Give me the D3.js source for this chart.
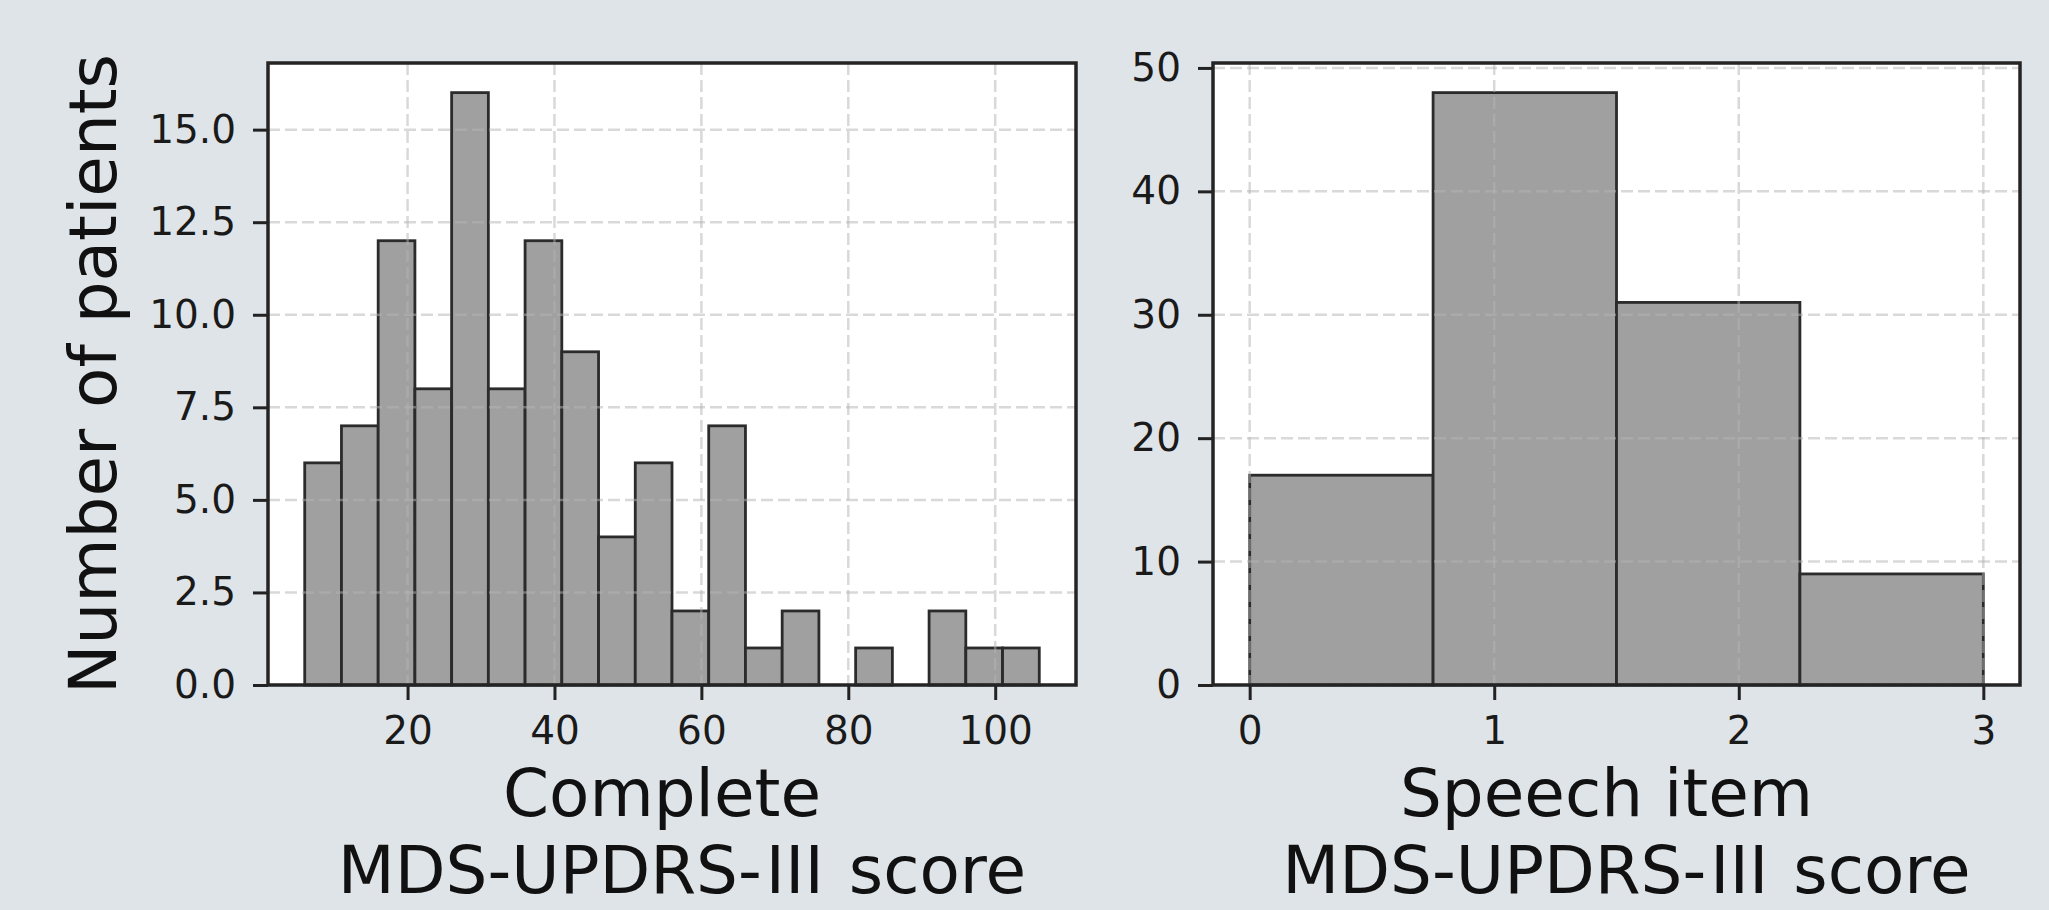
<!DOCTYPE html>
<html lang="en">
<head>
  <meta charset="UTF-8">
  <title>MDS-UPDRS-III histograms</title>
  <script src="https://d3js.org/d3.v7.min.js"></script>
  <style>
    body { margin: 0; background: #dfe4e8; }
    svg { display: block; font-family: "DejaVu Sans", sans-serif; }
  </style>
</head>
<body>
<svg id="chart" width="2049" height="910"></svg>

<script>
// Complete MDS-UPDRS-III score histogram (20 bins)
const completeEdges = [6, 11, 16, 21, 26, 31, 36, 41, 46, 51, 56, 61, 66, 71, 76, 81, 86, 91, 96, 101, 106];
const completeCounts = [6, 7, 12, 8, 16, 8, 12, 9, 4, 6, 2, 7, 1, 2, 0, 1, 0, 2, 1, 1];
const completeXTicks = [20, 40, 60, 80, 100];
const completeYTicks = [0, 2.5, 5, 7.5, 10, 12.5, 15];

// Speech item histogram (4 bins)
const speechEdges = [0, 0.75, 1.5, 2.25, 3];
const speechCounts = [17, 48, 31, 9];
const speechXTicks = [0, 1, 2, 3];
const speechYTicks = [0, 10, 20, 30, 40, 50];

const svg = d3.select("#chart");
svg.append("rect").attr("width", 2049).attr("height", 910).attr("fill", "#dfe4e8");

const plotTop = 63, plotBottom = 685;

function drawPanel(o) {
  const g = svg.append("g");
  const x = d3.scaleLinear().domain(o.xDomain).range([o.left, o.right]);
  const y = d3.scaleLinear().domain(o.yDomain).range([plotBottom, plotTop]);

  g.append("rect")
    .attr("x", o.left).attr("y", plotTop)
    .attr("width", o.right - o.left).attr("height", plotBottom - plotTop)
    .attr("fill", "white");

  const bins = o.counts.map((c, i) => ({ x0: o.edges[i], x1: o.edges[i + 1], c }));
  g.selectAll(".bar")
    .data(bins)
    .enter()
    .append("rect")
    .attr("class", "bar")
    .attr("x", d => x(d.x0))
    .attr("y", d => y(d.c))
    .attr("width", d => x(d.x1) - x(d.x0))
    .attr("height", d => y(0) - y(d.c))
    .attr("fill", "#a0a0a0")
    .attr("stroke", "#2b2b2b")
    .attr("stroke-width", 2.8);

  // dashed grid, drawn over the bars
  const grid = g.append("g")
    .attr("stroke", "#b4b4b4")
    .attr("stroke-opacity", 0.5)
    .attr("stroke-width", 2.5)
    .attr("stroke-dasharray", "12,5");
  grid.selectAll(".gx").data(o.xTicks).enter().append("line")
    .attr("x1", d => x(d)).attr("x2", d => x(d))
    .attr("y1", plotTop).attr("y2", plotBottom);
  grid.selectAll(".gy").data(o.yTicks).enter().append("line")
    .attr("x1", o.left).attr("x2", o.right)
    .attr("y1", d => y(d)).attr("y2", d => y(d));

  // axes
  const xAxis = d3.axisBottom(x).tickValues(o.xTicks).tickFormat(o.xFormat)
    .tickSize(15).tickPadding(16);
  const yAxis = d3.axisLeft(y).tickValues(o.yTicks).tickFormat(o.yFormat)
    .tickSize(15).tickPadding(17);

  [g.append("g").attr("transform", `translate(0,${plotBottom})`).call(xAxis),
   g.append("g").attr("transform", `translate(${o.left},0)`).call(yAxis)]
    .forEach(a => {
      a.select(".domain").remove();
      a.selectAll(".tick line").attr("stroke", "#222").attr("stroke-width", 3);
      a.selectAll(".tick text").attr("fill", "#1a1a1a")
        .style("font-size", "39px").style("font-family", "DejaVu Sans");
    });

  // frame
  g.append("rect")
    .attr("x", o.left).attr("y", plotTop)
    .attr("width", o.right - o.left).attr("height", plotBottom - plotTop)
    .attr("fill", "none")
    .attr("stroke", "#242424")
    .attr("stroke-width", 3.5);

  // x label (two lines), roman numeral in a full-width CJK glyph
  const cx = (o.left + o.right) / 2;
  g.append("text")
    .attr("x", cx - 10).attr("y", 816)
    .attr("text-anchor", "middle")
    .attr("fill", "#111")
    .style("font-size", "66px")
    .text(o.xLabel);
  const second = g.append("text")
    .attr("x", cx + 10).attr("y", 893)
    .attr("text-anchor", "middle")
    .attr("fill", "#111")
    .style("font-size", "66px");
  second.append("tspan").text("MDS-UPDRS-");
  second.append("tspan").style("font-family", "'Noto Sans CJK JP'").text("\u2162");
  second.append("tspan").text(" score");

  if (o.yLabel) {
    g.append("text")
      .attr("transform", `translate(116,${(plotTop + plotBottom) / 2}) rotate(-90)`)
      .attr("text-anchor", "middle")
      .attr("fill", "#111")
      .style("font-size", "66px")
      .text(o.yLabel);
  }
}

drawPanel({
  left: 268, right: 1076,
  xDomain: [1, 111], yDomain: [0, 16.8],
  edges: completeEdges, counts: completeCounts,
  xTicks: completeXTicks, yTicks: completeYTicks,
  xFormat: d3.format("d"), yFormat: d3.format(".1f"),
  xLabel: "Complete",
  yLabel: "Number of patients"
});

drawPanel({
  left: 1213, right: 2020,
  xDomain: [-0.15, 3.15], yDomain: [0, 50.4],
  edges: speechEdges, counts: speechCounts,
  xTicks: speechXTicks, yTicks: speechYTicks,
  xFormat: d3.format("d"), yFormat: d3.format("d"),
  xLabel: "Speech item"
});
</script>
</body>
</html>
